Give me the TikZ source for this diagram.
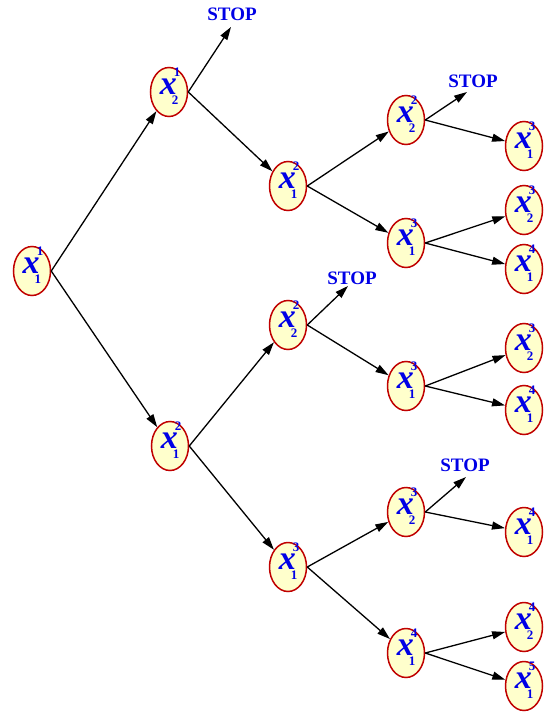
\documentclass[tikz,border=0pt]{standalone}
\usepackage{fontspec}
\setmainfont{Liberation Serif}
\usetikzlibrary{shapes.geometric,arrows.meta}
\definecolor{cellfill}{RGB}{255,255,204}
\definecolor{cellline}{RGB}{192,0,0}
\definecolor{textblue}{RGB}{0,0,230}
\newcommand{\digit}[1]{\fontsize{13}{13}\selectfont\upshape #1}
\newcommand{\xv}[2]{\fontsize{34}{34}\selectfont\bfseries\itshape x\kern-3pt\rlap{\raisebox{18pt}[0pt][0pt]{\digit{#1}}}\kern-2pt\raisebox{-10pt}[0pt][0pt]{\digit{#2}}}
\begin{document}
\begin{tikzpicture}[x=1pt,y=-1pt]
			\useasboundingbox (0,0) rectangle (547,715);
			\begin{scope}[every node/.style={ellipse,draw=cellline,line width=1.5pt,fill=cellfill,text=textblue,minimum width=37pt,minimum height=49pt,inner sep=0pt,text height=12pt,text depth=8pt}]
				\node (A) at (32,271) {\xv{1}{1}};
				\node (B) at (169,92) {\xv{1}{2}};
				\node (C) at (170,446) {\xv{2}{1}};
				\node (D) at (288,186) {\xv{2}{1}};
				\node (E) at (288,325) {\xv{2}{2}};
				\node (F) at (288,567) {\xv{3}{1}};
				\node (G) at (406,120) {\xv{2}{2}};
				\node (H) at (406,243) {\xv{3}{1}};
				\node (I) at (406,386) {\xv{3}{1}};
				\node (J) at (406,512) {\xv{3}{2}};
				\node (K) at (406,653) {\xv{4}{1}};
				\node (L) at (524,146) {\xv{3}{1}};
				\node (M) at (524,210) {\xv{3}{2}};
				\node (N) at (524,269) {\xv{4}{1}};
				\node (O) at (524,348) {\xv{3}{2}};
				\node (P) at (524,410) {\xv{4}{1}};
				\node (Q) at (524,532) {\xv{4}{1}};
				\node (R) at (524,627) {\xv{4}{2}};
				\node (S) at (524,686) {\xv{5}{1}};
			\end{scope}
			\begin{scope}[every node/.style={text=textblue,font=\fontsize{19}{19}\selectfont\bfseries,inner sep=0pt}]
				\node (stopB) at (232,14) {STOP};
				\node (stopG) at (473,81) {STOP};
				\node (stopE) at (352,278) {STOP};
				\node (stopJ) at (465,465) {STOP};
			\end{scope}
			\coordinate (tipB) at (231,27);
			\coordinate (tipG) at (467,92);
			\coordinate (tipE) at (348,286);
			\coordinate (tipJ) at (466,477);
			\begin{scope}[every edge/.style={draw,line width=1.3pt,-{Triangle[length=13pt,width=8pt]}}]
				\path (A.east) edge (B);
				\path (A.east) edge (C);
				\path (B.east) edge (tipB);
				\path (B.east) edge (D);
				\path (C.east) edge (E);
				\path (C.east) edge (F);
				\path (D.east) edge (G);
				\path (D.east) edge (H);
				\path (E.east) edge (tipE);
				\path (E.east) edge (I);
				\path (F.east) edge (J);
				\path (F.east) edge (K);
				\path (G.east) edge (tipG);
				\path (G.east) edge (L);
				\path (H.east) edge (M);
				\path (H.east) edge (N);
				\path (I.east) edge (O);
				\path (I.east) edge (P);
				\path (J.east) edge (tipJ);
				\path (J.east) edge (Q);
				\path (K.east) edge (R);
				\path (K.east) edge (S);
			\end{scope}
		\end{tikzpicture}
\end{document}
